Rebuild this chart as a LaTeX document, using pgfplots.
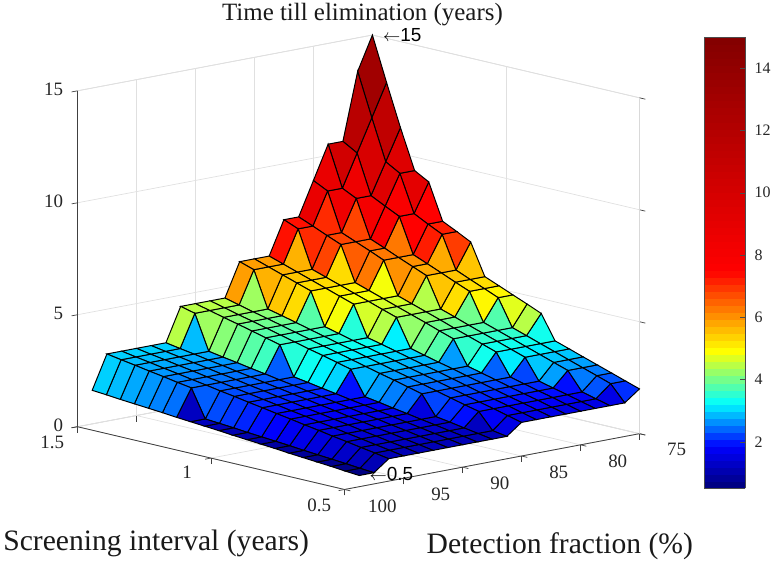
\documentclass[border=0pt]{standalone}
\usepackage{fontspec}
\usepackage{pgfplots}
\pgfplotsset{compat=1.18}
\setmainfont{Liberation Serif}
\newfontfamily\annofont{Liberation Sans}
\pgfplotsset{colormap={rjet}{rgb255(50)=(0,0,131) rgb255(175)=(0,0,255) rgb255(315)=(0,255,255) rgb255(480)=(255,255,0) rgb255(740)=(255,0,0) rgb255(1500)=(128,0,0)}}
\begin{document}
\begin{tikzpicture}
\path (0pt,0pt) rectangle (774pt,556pt);
\begin{axis}[
  at={(75pt,66pt)},anchor=south west,
  x dir=reverse,
  x={(11.84pt,2.24pt)},y={(-268pt,63pt)},z={(0pt,22.47pt)},
  xmin=75,xmax=100,ymin=0.5,ymax=1.5,zmin=0,zmax=15,
  xtick={75,80,85,90,95,100},ytick={0.5,1,1.5},ztick={0,5,10,15},
  tick pos=left,
  grid=major,grid style={black!12,line width=0.7pt},
  axis line style={black!15,line width=0.7pt},
  tick align=outside,major tick length=6pt,
  tick style={black!75,line width=0.7pt},
  /pgf/number format/assume math mode=true,
  tick label style={font=\fontsize{19}{19}\selectfont,text=black!85},
  xticklabel style={xshift=23pt,yshift=-4pt},
  yticklabel style={xshift=-10pt,yshift=-3pt},
  zticklabel style={xshift=-5pt},
  point meta min=0.5,point meta max=15,
  colormap name=rjet,
  clip=false,
  z buffer=none,
]
\draw[black!75,line width=0.8pt] (axis cs:100,1.5,15)--(axis cs:100,1.5,0)--(axis cs:100,0.5,0)--(axis cs:75,0.5,0);
\addplot3[surf,shader=flat corner,draw=black,line width=1pt,mesh/ordering=y varies,mesh/rows=20,mesh/cols=20] coordinates {
(75,.5,2)(75,.553,2.21)(75,.605,2.42)(75,.658,2.63)(75,.711,2.84)(75,.763,3.05)(75,.816,3.26)(75,.868,4.34)(75,.921,4.61)(75,.974,4.87)(75,1.026,5.13)(75,1.079,5.39)(75,1.132,6.79)(75,1.184,7.11)(75,1.237,7.42)(75,1.289,9.03)(75,1.342,9.39)(75,1.395,11.16)(75,1.447,13.03)(75,1.5,15)
(76.25,.5,1.5)(76.25,.553,2.21)(76.25,.605,2.42)(76.25,.658,2.63)(76.25,.711,2.84)(76.25,.763,3.05)(76.25,.816,3.26)(76.25,.868,3.47)(76.25,.921,3.68)(76.25,.974,4.87)(76.25,1.026,5.13)(76.25,1.079,5.39)(76.25,1.132,5.66)(76.25,1.184,7.11)(76.25,1.237,7.42)(76.25,1.289,7.74)(76.25,1.342,9.39)(76.25,1.395,9.76)(76.25,1.447,11.58)(76.25,1.5,13.5)
(77.5,.5,1.5)(77.5,.553,1.66)(77.5,.605,1.82)(77.5,.658,2.63)(77.5,.711,2.84)(77.5,.763,3.05)(77.5,.816,3.26)(77.5,.868,3.47)(77.5,.921,3.68)(77.5,.974,3.89)(77.5,1.026,5.13)(77.5,1.079,5.39)(77.5,1.132,5.66)(77.5,1.184,5.92)(77.5,1.237,6.18)(77.5,1.289,7.74)(77.5,1.342,8.05)(77.5,1.395,8.37)(77.5,1.447,10.13)(77.5,1.5,10.5)
(78.75,.5,1.5)(78.75,.553,1.66)(78.75,.605,1.82)(78.75,.658,1.97)(78.75,.711,2.13)(78.75,.763,3.05)(78.75,.816,3.26)(78.75,.868,3.47)(78.75,.921,3.68)(78.75,.974,3.89)(78.75,1.026,4.11)(78.75,1.079,4.32)(78.75,1.132,5.66)(78.75,1.184,5.92)(78.75,1.237,6.18)(78.75,1.289,6.45)(78.75,1.342,6.71)(78.75,1.395,8.37)(78.75,1.447,8.68)(78.75,1.5,10.5)
(80,.5,1.5)(80,.553,1.66)(80,.605,1.82)(80,.658,1.97)(80,.711,2.13)(80,.763,2.29)(80,.816,3.26)(80,.868,3.47)(80,.921,3.68)(80,.974,3.89)(80,1.026,4.11)(80,1.079,4.32)(80,1.132,4.53)(80,1.184,4.74)(80,1.237,6.18)(80,1.289,6.45)(80,1.342,6.71)(80,1.395,6.97)(80,1.447,8.68)(80,1.5,9)
(81.25,.5,1.5)(81.25,.553,1.66)(81.25,.605,1.82)(81.25,.658,1.97)(81.25,.711,2.13)(81.25,.763,2.29)(81.25,.816,2.45)(81.25,.868,2.61)(81.25,.921,3.68)(81.25,.974,3.89)(81.25,1.026,4.11)(81.25,1.079,4.32)(81.25,1.132,4.53)(81.25,1.184,4.74)(81.25,1.237,4.95)(81.25,1.289,5.16)(81.25,1.342,6.71)(81.25,1.395,6.97)(81.25,1.447,7.24)(81.25,1.5,7.5)
(82.5,.5,1.5)(82.5,.553,1.66)(82.5,.605,1.82)(82.5,.658,1.97)(82.5,.711,2.13)(82.5,.763,2.29)(82.5,.816,2.45)(82.5,.868,2.61)(82.5,.921,2.76)(82.5,.974,2.92)(82.5,1.026,3.08)(82.5,1.079,4.32)(82.5,1.132,4.53)(82.5,1.184,4.74)(82.5,1.237,4.95)(82.5,1.289,5.16)(82.5,1.342,5.37)(82.5,1.395,5.58)(82.5,1.447,7.24)(82.5,1.5,7.5)
(83.75,.5,1.5)(83.75,.553,1.66)(83.75,.605,1.82)(83.75,.658,1.97)(83.75,.711,2.13)(83.75,.763,2.29)(83.75,.816,2.45)(83.75,.868,2.61)(83.75,.921,2.76)(83.75,.974,2.92)(83.75,1.026,3.08)(83.75,1.079,3.24)(83.75,1.132,3.39)(83.75,1.184,4.74)(83.75,1.237,4.95)(83.75,1.289,5.16)(83.75,1.342,5.37)(83.75,1.395,5.58)(83.75,1.447,5.79)(83.75,1.5,6)
(85,.5,1.5)(85,.553,1.66)(85,.605,1.82)(85,.658,1.97)(85,.711,2.13)(85,.763,2.29)(85,.816,2.45)(85,.868,2.61)(85,.921,2.76)(85,.974,2.92)(85,1.026,3.08)(85,1.079,3.24)(85,1.132,3.39)(85,1.184,3.55)(85,1.237,3.71)(85,1.289,5.16)(85,1.342,5.37)(85,1.395,5.58)(85,1.447,5.79)(85,1.5,6)
(86.25,.5,1)(86.25,.553,1.11)(86.25,.605,1.82)(86.25,.658,1.97)(86.25,.711,2.13)(86.25,.763,2.29)(86.25,.816,2.45)(86.25,.868,2.61)(86.25,.921,2.76)(86.25,.974,2.92)(86.25,1.026,3.08)(86.25,1.079,3.24)(86.25,1.132,3.39)(86.25,1.184,3.55)(86.25,1.237,3.71)(86.25,1.289,3.87)(86.25,1.342,4.03)(86.25,1.395,4.18)(86.25,1.447,5.79)(86.25,1.5,6)
(87.5,.5,1)(87.5,.553,1.11)(87.5,.605,1.21)(87.5,.658,1.32)(87.5,.711,1.42)(87.5,.763,2.29)(87.5,.816,2.45)(87.5,.868,2.61)(87.5,.921,2.76)(87.5,.974,2.92)(87.5,1.026,3.08)(87.5,1.079,3.24)(87.5,1.132,3.39)(87.5,1.184,3.55)(87.5,1.237,3.71)(87.5,1.289,3.87)(87.5,1.342,4.03)(87.5,1.395,4.18)(87.5,1.447,4.34)(87.5,1.5,4.5)
(88.75,.5,1)(88.75,.553,1.11)(88.75,.605,1.21)(88.75,.658,1.32)(88.75,.711,1.42)(88.75,.763,1.53)(88.75,.816,1.63)(88.75,.868,1.74)(88.75,.921,1.84)(88.75,.974,2.92)(88.75,1.026,3.08)(88.75,1.079,3.24)(88.75,1.132,3.39)(88.75,1.184,3.55)(88.75,1.237,3.71)(88.75,1.289,3.87)(88.75,1.342,4.03)(88.75,1.395,4.18)(88.75,1.447,4.34)(88.75,1.5,4.5)
(90,.5,1)(90,.553,1.11)(90,.605,1.21)(90,.658,1.32)(90,.711,1.42)(90,.763,1.53)(90,.816,1.63)(90,.868,1.74)(90,.921,1.84)(90,.974,1.95)(90,1.026,2.05)(90,1.079,2.16)(90,1.132,2.26)(90,1.184,3.55)(90,1.237,3.71)(90,1.289,3.87)(90,1.342,4.03)(90,1.395,4.18)(90,1.447,4.34)(90,1.5,4.5)
(91.25,.5,1)(91.25,.553,1.11)(91.25,.605,1.21)(91.25,.658,1.32)(91.25,.711,1.42)(91.25,.763,1.53)(91.25,.816,1.63)(91.25,.868,1.74)(91.25,.921,1.84)(91.25,.974,1.95)(91.25,1.026,2.05)(91.25,1.079,2.16)(91.25,1.132,2.26)(91.25,1.184,2.37)(91.25,1.237,2.47)(91.25,1.289,2.58)(91.25,1.342,2.68)(91.25,1.395,2.79)(91.25,1.447,4.34)(91.25,1.5,4.5)
(92.5,.5,1)(92.5,.553,1.11)(92.5,.605,1.21)(92.5,.658,1.32)(92.5,.711,1.42)(92.5,.763,1.53)(92.5,.816,1.63)(92.5,.868,1.74)(92.5,.921,1.84)(92.5,.974,1.95)(92.5,1.026,2.05)(92.5,1.079,2.16)(92.5,1.132,2.26)(92.5,1.184,2.37)(92.5,1.237,2.47)(92.5,1.289,2.58)(92.5,1.342,2.68)(92.5,1.395,2.79)(92.5,1.447,2.89)(92.5,1.5,3)
(93.75,.5,1)(93.75,.553,1.11)(93.75,.605,1.21)(93.75,.658,1.32)(93.75,.711,1.42)(93.75,.763,1.53)(93.75,.816,1.63)(93.75,.868,1.74)(93.75,.921,1.84)(93.75,.974,1.95)(93.75,1.026,2.05)(93.75,1.079,2.16)(93.75,1.132,2.26)(93.75,1.184,2.37)(93.75,1.237,2.47)(93.75,1.289,2.58)(93.75,1.342,2.68)(93.75,1.395,2.79)(93.75,1.447,2.89)(93.75,1.5,3)
(95,.5,1)(95,.553,1.11)(95,.605,1.21)(95,.658,1.32)(95,.711,1.42)(95,.763,1.53)(95,.816,1.63)(95,.868,1.74)(95,.921,1.84)(95,.974,1.95)(95,1.026,2.05)(95,1.079,2.16)(95,1.132,2.26)(95,1.184,2.37)(95,1.237,2.47)(95,1.289,2.58)(95,1.342,2.68)(95,1.395,2.79)(95,1.447,2.89)(95,1.5,3)
(96.25,.5,1)(96.25,.553,1.11)(96.25,.605,1.21)(96.25,.658,1.32)(96.25,.711,1.42)(96.25,.763,1.53)(96.25,.816,1.63)(96.25,.868,1.74)(96.25,.921,1.84)(96.25,.974,1.95)(96.25,1.026,2.05)(96.25,1.079,2.16)(96.25,1.132,2.26)(96.25,1.184,2.37)(96.25,1.237,2.47)(96.25,1.289,2.58)(96.25,1.342,2.68)(96.25,1.395,2.79)(96.25,1.447,2.89)(96.25,1.5,3)
(97.5,.5,.5)(97.5,.553,.55)(97.5,.605,.61)(97.5,.658,.66)(97.5,.711,.71)(97.5,.763,.76)(97.5,.816,.82)(97.5,.868,.87)(97.5,.921,.92)(97.5,.974,.97)(97.5,1.026,1.03)(97.5,1.079,1.08)(97.5,1.132,1.13)(97.5,1.184,2.37)(97.5,1.237,2.47)(97.5,1.289,2.58)(97.5,1.342,2.68)(97.5,1.395,2.79)(97.5,1.447,2.89)(97.5,1.5,3)
(98.75,.5,.5)(98.75,.553,.55)(98.75,.605,.61)(98.75,.658,.66)(98.75,.711,.71)(98.75,.763,.76)(98.75,.816,.82)(98.75,.868,.87)(98.75,.921,.92)(98.75,.974,.97)(98.75,1.026,1.03)(98.75,1.079,1.08)(98.75,1.132,1.13)(98.75,1.184,1.18)(98.75,1.237,1.24)(98.75,1.289,1.29)(98.75,1.342,1.34)(98.75,1.395,1.39)(98.75,1.447,1.45)(98.75,1.5,1.5)
};
\node[anchor=west,inner sep=0pt,font=\fontsize{19}{19}\annofont] at (axis cs:75,1.5,15) {\ \ $\leftarrow$15};
\node[anchor=west,inner sep=0pt,xshift=5pt,yshift=2pt,font=\fontsize{19}{19}\annofont] at (axis cs:98.75,0.5,0.5) {\ $\leftarrow$0.5};
\end{axis}
\begin{axis}[
  at={(704pt,67pt)},anchor=south west,width=41pt,height=453pt,scale only axis,
  view={0}{90},xmin=0,xmax=1,ymin=0.5,ymax=15,xtick=\empty,
  ytick={2,4,6,8,10,12,14},ytick pos=right,yticklabel pos=right,tick align=inside,major tick length=5pt,
  /pgf/number format/assume math mode=true,
  tick label style={font=\fontsize{16}{16}\selectfont,text=black!85},
  yticklabel style={xshift=6pt},
  axis line style={black!70,line width=0.6pt},tick style={black!70},
  point meta min=0.5,point meta max=15,colormap name=rjet,
  axis on top,z buffer=none,
]
\addplot3[surf,shader=flat corner,mesh/ordering=y varies,mesh/rows=65,mesh/cols=2] coordinates {
(0,.5,.5)(0,.727,.727)(0,.953,.953)(0,1.18,1.18)(0,1.406,1.406)(0,1.633,1.633)(0,1.859,1.859)(0,2.086,2.086)(0,2.313,2.313)(0,2.539,2.539)(0,2.766,2.766)(0,2.992,2.992)(0,3.219,3.219)(0,3.445,3.445)(0,3.672,3.672)(0,3.898,3.898)(0,4.125,4.125)(0,4.352,4.352)(0,4.578,4.578)(0,4.805,4.805)(0,5.031,5.031)(0,5.258,5.258)(0,5.484,5.484)(0,5.711,5.711)(0,5.938,5.938)(0,6.164,6.164)(0,6.391,6.391)(0,6.617,6.617)(0,6.844,6.844)(0,7.07,7.07)(0,7.297,7.297)(0,7.523,7.523)(0,7.75,7.75)(0,7.977,7.977)(0,8.203,8.203)(0,8.43,8.43)(0,8.656,8.656)(0,8.883,8.883)(0,9.109,9.109)(0,9.336,9.336)(0,9.563,9.563)(0,9.789,9.789)(0,10.016,10.016)(0,10.242,10.242)(0,10.469,10.469)(0,10.695,10.695)(0,10.922,10.922)(0,11.148,11.148)(0,11.375,11.375)(0,11.602,11.602)(0,11.828,11.828)(0,12.055,12.055)(0,12.281,12.281)(0,12.508,12.508)(0,12.734,12.734)(0,12.961,12.961)(0,13.188,13.188)(0,13.414,13.414)(0,13.641,13.641)(0,13.867,13.867)(0,14.094,14.094)(0,14.32,14.32)(0,14.547,14.547)(0,14.773,14.773)(0,15,15)
(1,.5,.5)(1,.727,.727)(1,.953,.953)(1,1.18,1.18)(1,1.406,1.406)(1,1.633,1.633)(1,1.859,1.859)(1,2.086,2.086)(1,2.313,2.313)(1,2.539,2.539)(1,2.766,2.766)(1,2.992,2.992)(1,3.219,3.219)(1,3.445,3.445)(1,3.672,3.672)(1,3.898,3.898)(1,4.125,4.125)(1,4.352,4.352)(1,4.578,4.578)(1,4.805,4.805)(1,5.031,5.031)(1,5.258,5.258)(1,5.484,5.484)(1,5.711,5.711)(1,5.938,5.938)(1,6.164,6.164)(1,6.391,6.391)(1,6.617,6.617)(1,6.844,6.844)(1,7.07,7.07)(1,7.297,7.297)(1,7.523,7.523)(1,7.75,7.75)(1,7.977,7.977)(1,8.203,8.203)(1,8.43,8.43)(1,8.656,8.656)(1,8.883,8.883)(1,9.109,9.109)(1,9.336,9.336)(1,9.563,9.563)(1,9.789,9.789)(1,10.016,10.016)(1,10.242,10.242)(1,10.469,10.469)(1,10.695,10.695)(1,10.922,10.922)(1,11.148,11.148)(1,11.375,11.375)(1,11.602,11.602)(1,11.828,11.828)(1,12.055,12.055)(1,12.281,12.281)(1,12.508,12.508)(1,12.734,12.734)(1,12.961,12.961)(1,13.188,13.188)(1,13.414,13.414)(1,13.641,13.641)(1,13.867,13.867)(1,14.094,14.094)(1,14.32,14.32)(1,14.547,14.547)(1,14.773,14.773)(1,15,15)
};
\end{axis}
\node[font=\fontsize{25}{25}\selectfont,text=black!90] at (361pt,542.5pt) {Time till elimination (years)};
\node[font=\fontsize{29.7}{30}\selectfont,text=black!90] at (154pt,12pt) {Screening interval (years)};
\node[font=\fontsize{29.7}{30}\selectfont,text=black!90] at (559pt,9pt) {Detection fraction (\%)};
\end{tikzpicture}
\end{document}
